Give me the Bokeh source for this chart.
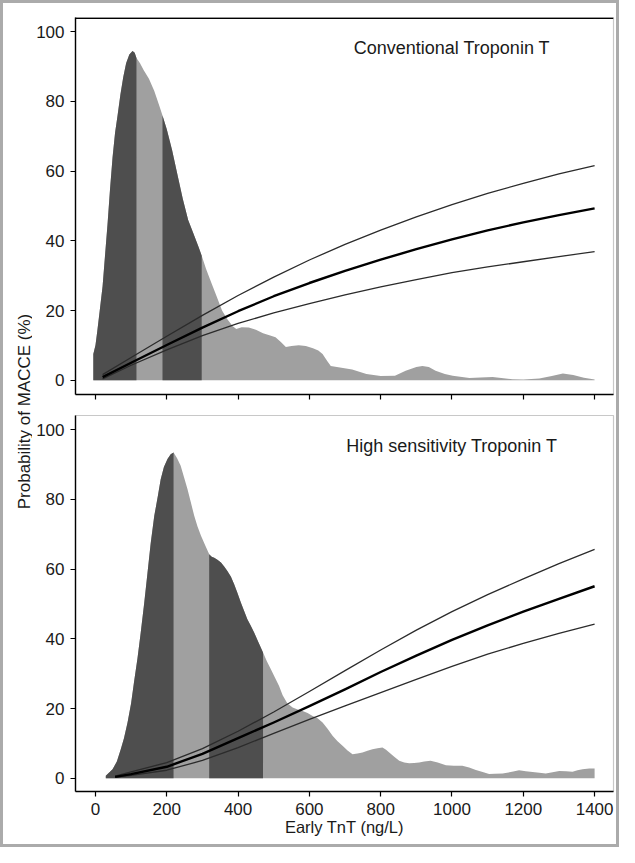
import numpy as np
from math import pi
from bokeh.plotting import figure
from bokeh.layouts import row, column
from bokeh.models import Label, Span, FixedTicker, Range1d, CustomLabelingPolicy
from bokeh.embed import file_html
from bokeh.resources import INLINE

# ---------------- data ----------------
x_ticks = [0, 200, 400, 600, 800, 1000, 1200, 1400]
y_ticks = [0, 20, 40, 60, 80, 100]

panel_titles = ["Conventional Troponin T", "High sensitivity Troponin T"]
y_title = "Probability of MACCE (%)"
x_title = "Early TnT (ng/L)"

# density (conventional TnT)
conv_dens_x = [-6, 0, 5, 12, 20, 27, 34, 41, 48, 55, 62, 70, 78, 86, 95, 104, 110, 115,
               125, 135, 150, 165, 180, 188, 200, 215, 230, 245, 260, 275, 290, 298,
               310, 325, 340, 355, 370, 385, 395, 410, 430, 450, 470, 490, 505, 520,
               534, 550, 570, 590, 610, 625, 637, 650, 660, 690, 720, 760, 800, 840,
               870, 900, 917, 935, 954, 980, 1002, 1049, 1080, 1114, 1170, 1200, 1245,
               1280, 1311, 1340, 1370, 1400]
conv_dens_y = [7.5, 10, 14, 20, 27, 36, 45, 55, 64, 71, 76, 82, 87, 91, 93.5, 94.5, 94, 92.5,
               91, 89, 86.5, 83, 78.5, 76, 72, 66, 59, 52, 46, 42, 38, 35.7,
               32, 28, 24, 20, 17.5, 15.5, 14.7, 15.2, 15.1, 14.5, 13.5, 12.8, 12.3, 11,
               9.5, 9.8, 10, 9.8, 9.2, 8.5, 7.5, 5.5, 4.1, 3.6, 3.1, 1.8, 1.2, 1.3,
               2.7, 3.8, 4.1, 3.8, 2.7, 1.8, 1.3, 0.6, 0.8, 0.9, 0.3, 0.2, 0.5,
               1.2, 1.9, 1.5, 0.7, 0.2]
conv_cuts = [115, 188, 298]

# density (high sensitivity TnT)
hs_dens_x = [29, 40, 48, 60, 71, 80, 90, 100, 108, 118, 127, 137, 146, 155, 165, 175, 183,
             192, 202, 211, 219, 229, 239, 248, 258, 268, 277, 286, 296, 308, 319, 326,
             333, 342, 352, 361, 370, 380, 389, 398, 408, 417, 426, 436, 445, 458, 470,
             481, 492, 504, 515, 525, 538, 553, 567, 581, 595, 609, 623, 637, 651, 665,
             679, 693, 707, 721, 735, 749, 763, 777, 791, 805, 815, 824, 838, 852, 866,
             880, 894, 908, 922, 940, 960, 983, 1005, 1029, 1048, 1067, 1086, 1104, 1120,
             1142, 1165, 1188, 1207, 1226, 1245, 1263, 1282, 1301, 1320, 1338, 1352, 1366,
             1385, 1400]
hs_dens_y = [0.7, 1.8, 2.6, 4.8, 8.3, 11.5, 16, 21.5, 27.5, 34.5, 41.8, 50.5, 59, 67.5, 75.3, 81, 85.8,
             89.3, 91.6, 93, 93.5, 91.8, 89.7, 86.5, 83, 79, 75.3, 72.3, 69.6, 66.8, 64.3, 63.6,
             63.3, 62.7, 61.9, 60.8, 59.5, 57.8, 55.7, 53.2, 50.4, 48, 45.6, 43.7, 41.8, 38.8, 36.1,
             33.5, 31.3, 28.8, 26.5, 23.8, 21.5, 20.3, 19.7, 19.3, 18.7, 17.9, 17.2, 16, 14.2, 12.2,
             10.6, 9.3, 8.0, 6.9, 7.1, 7.4, 7.9, 8.3, 8.6, 8.8, 8.2, 7.4, 6.2, 5.0, 4.5,
             4.3, 4.4, 4.5, 4.8, 5.0, 4.5, 3.7, 3.6, 3.6, 3.1, 2.4, 1.8, 1.2, 1.3,
             1.4, 1.8, 2.3, 2.0, 1.8, 1.6, 1.4, 1.7, 2.1, 2.0, 1.9, 2.3, 2.6,
             2.8, 2.8]
hs_cuts = [219, 319, 470]

# fitted probability curves (estimate, upper and lower confidence limits)
conv_curve_x = [20, 100, 200, 300, 400, 500, 600, 700, 800, 900, 1000, 1100, 1200, 1300, 1400]
conv_mid = [0.9, 5.0, 10.1, 15.1, 19.8, 24.1, 27.9, 31.4, 34.6, 37.6, 40.4, 43.0, 45.3, 47.4, 49.3]
conv_upp = [1.6, 6.5, 12.6, 18.6, 24.3, 29.6, 34.5, 39.0, 43.1, 46.9, 50.4, 53.6, 56.5, 59.2, 61.6]
conv_low = [0.4, 4.3, 8.7, 12.8, 16.3, 19.3, 22.0, 24.5, 26.8, 28.9, 30.9, 32.5, 34.0, 35.5, 36.9]

hs_curve_x = [55, 100, 200, 300, 400, 500, 600, 700, 800, 900, 1000, 1100, 1200, 1300, 1400]
hs_mid = [0.4, 1.2, 3.3, 7.0, 11.5, 16.0, 20.7, 25.5, 30.5, 35.2, 39.7, 43.9, 47.8, 51.5, 55.1]
hs_upp = [0.6, 1.8, 4.5, 8.5, 13.5, 19.0, 24.9, 30.9, 36.8, 42.5, 47.8, 52.7, 57.2, 61.6, 65.7]
hs_low = [0.3, 0.8, 2.3, 5.1, 8.8, 12.9, 16.9, 20.8, 24.6, 28.4, 32.1, 35.6, 38.7, 41.6, 44.2]

# ---------------- style ----------------
FONT = "Liberation Sans"
DARK = "#4e4e4e"
LIGHT = "#a0a0a0"
TXT = "#1a1a1a"
FRAME_GRAY = "#c8c8c8"


def make_panel(dx, dy, cuts, cx, mid, upp, low, title, bottom):
    h = 434 if bottom else 407
    p = figure(width=584, height=h, output_backend="svg", toolbar_location=None,
               x_range=Range1d(-56, 1453),
               y_range=Range1d(-3.8 if bottom else -4.1, 104.1),
               min_border_left=43, min_border_right=3,
               min_border_top=5 if bottom else 14,
               min_border_bottom=53 if bottom else 16)
    p.background_fill_color = "white"
    p.border_fill_color = "white"
    p.grid.visible = False
    p.outline_line_color = FRAME_GRAY
    p.outline_line_width = 1.2

    dx = np.array(dx, dtype=float)
    dy = np.array(dy, dtype=float)
    # light full density
    p.varea(x=dx, y1=np.zeros_like(dy), y2=dy, fill_color=LIGHT)
    # dark bands: start..cut1, cut2..cut3
    bands = [(dx[0], cuts[0]), (cuts[1], cuts[2])]
    for a, b in bands:
        m = (dx >= a) & (dx <= b)
        p.varea(x=dx[m], y1=np.zeros(m.sum()), y2=dy[m], fill_color=DARK)

    p.line(cx, upp, line_color="#2b2b2b", line_width=1.3, line_join="round")
    p.line(cx, low, line_color="#2b2b2b", line_width=1.3, line_join="round")
    p.line(cx, mid, line_color="black", line_width=2.4, line_join="round")

    if not bottom:
        p.add_layout(Span(location=103.9, dimension="width", line_color="black", line_width=1.6))

    p.add_layout(Label(x=1000, y=95.3, text=title, text_align="center", text_baseline="middle",
                       text_font=FONT, text_font_size="18px", text_color=TXT))

    for ax in (p.xaxis, p.yaxis):
        ax.axis_line_color = "black"
        ax.axis_line_width = 1.4
        ax.major_tick_line_color = "black"
        ax.major_tick_line_width = 1.2
        ax.major_tick_out = 5
        ax.major_tick_in = 0
        ax.minor_tick_line_color = None
        ax.major_label_text_font = FONT
        ax.major_label_text_font_size = "17px"
        ax.major_label_text_color = TXT
        ax.major_label_standoff = 6
    p.yaxis.ticker = FixedTicker(ticks=y_ticks)
    p.xaxis.ticker = FixedTicker(ticks=x_ticks)
    if bottom:
        p.xaxis.axis_label = x_title
        p.xaxis.axis_label_text_font = FONT
        p.xaxis.axis_label_text_font_size = "16.5px"
        p.xaxis.axis_label_text_font_style = "normal"
        p.xaxis.axis_label_text_color = TXT
        p.xaxis.axis_label_standoff = 0
    else:
        # ticks only, no tick labels on the upper panel
        p.xaxis.major_label_policy = CustomLabelingPolicy(code="return []")
        p.xaxis.major_label_text_font_size = "1px"
        p.xaxis.major_label_standoff = 0
    return p


top = make_panel(conv_dens_x, conv_dens_y, conv_cuts, conv_curve_x, conv_mid, conv_upp, conv_low,
                 panel_titles[0], bottom=False)
bot = make_panel(hs_dens_x, hs_dens_y, hs_cuts, hs_curve_x, hs_mid, hs_upp, hs_low,
                 panel_titles[1], bottom=True)

lab = figure(width=29, height=841, output_backend="svg", toolbar_location=None,
             x_range=Range1d(0, 29), y_range=Range1d(0, 841),
             min_border=0, min_border_left=0, min_border_right=0,
             min_border_top=0, min_border_bottom=0)
lab.axis.visible = False
lab.grid.visible = False
lab.outline_line_color = None
lab.add_layout(Label(x=20.5, y=433, text=y_title, angle=pi / 2, text_align="center",
                     text_baseline="middle", text_font=FONT, text_font_size="17px",
                     text_color=TXT))

layout = row(lab, column(top, bot, spacing=0), spacing=0,
             styles={"border": "3px solid #ababab"})

open("out.html", "w").write(file_html(layout, INLINE))
